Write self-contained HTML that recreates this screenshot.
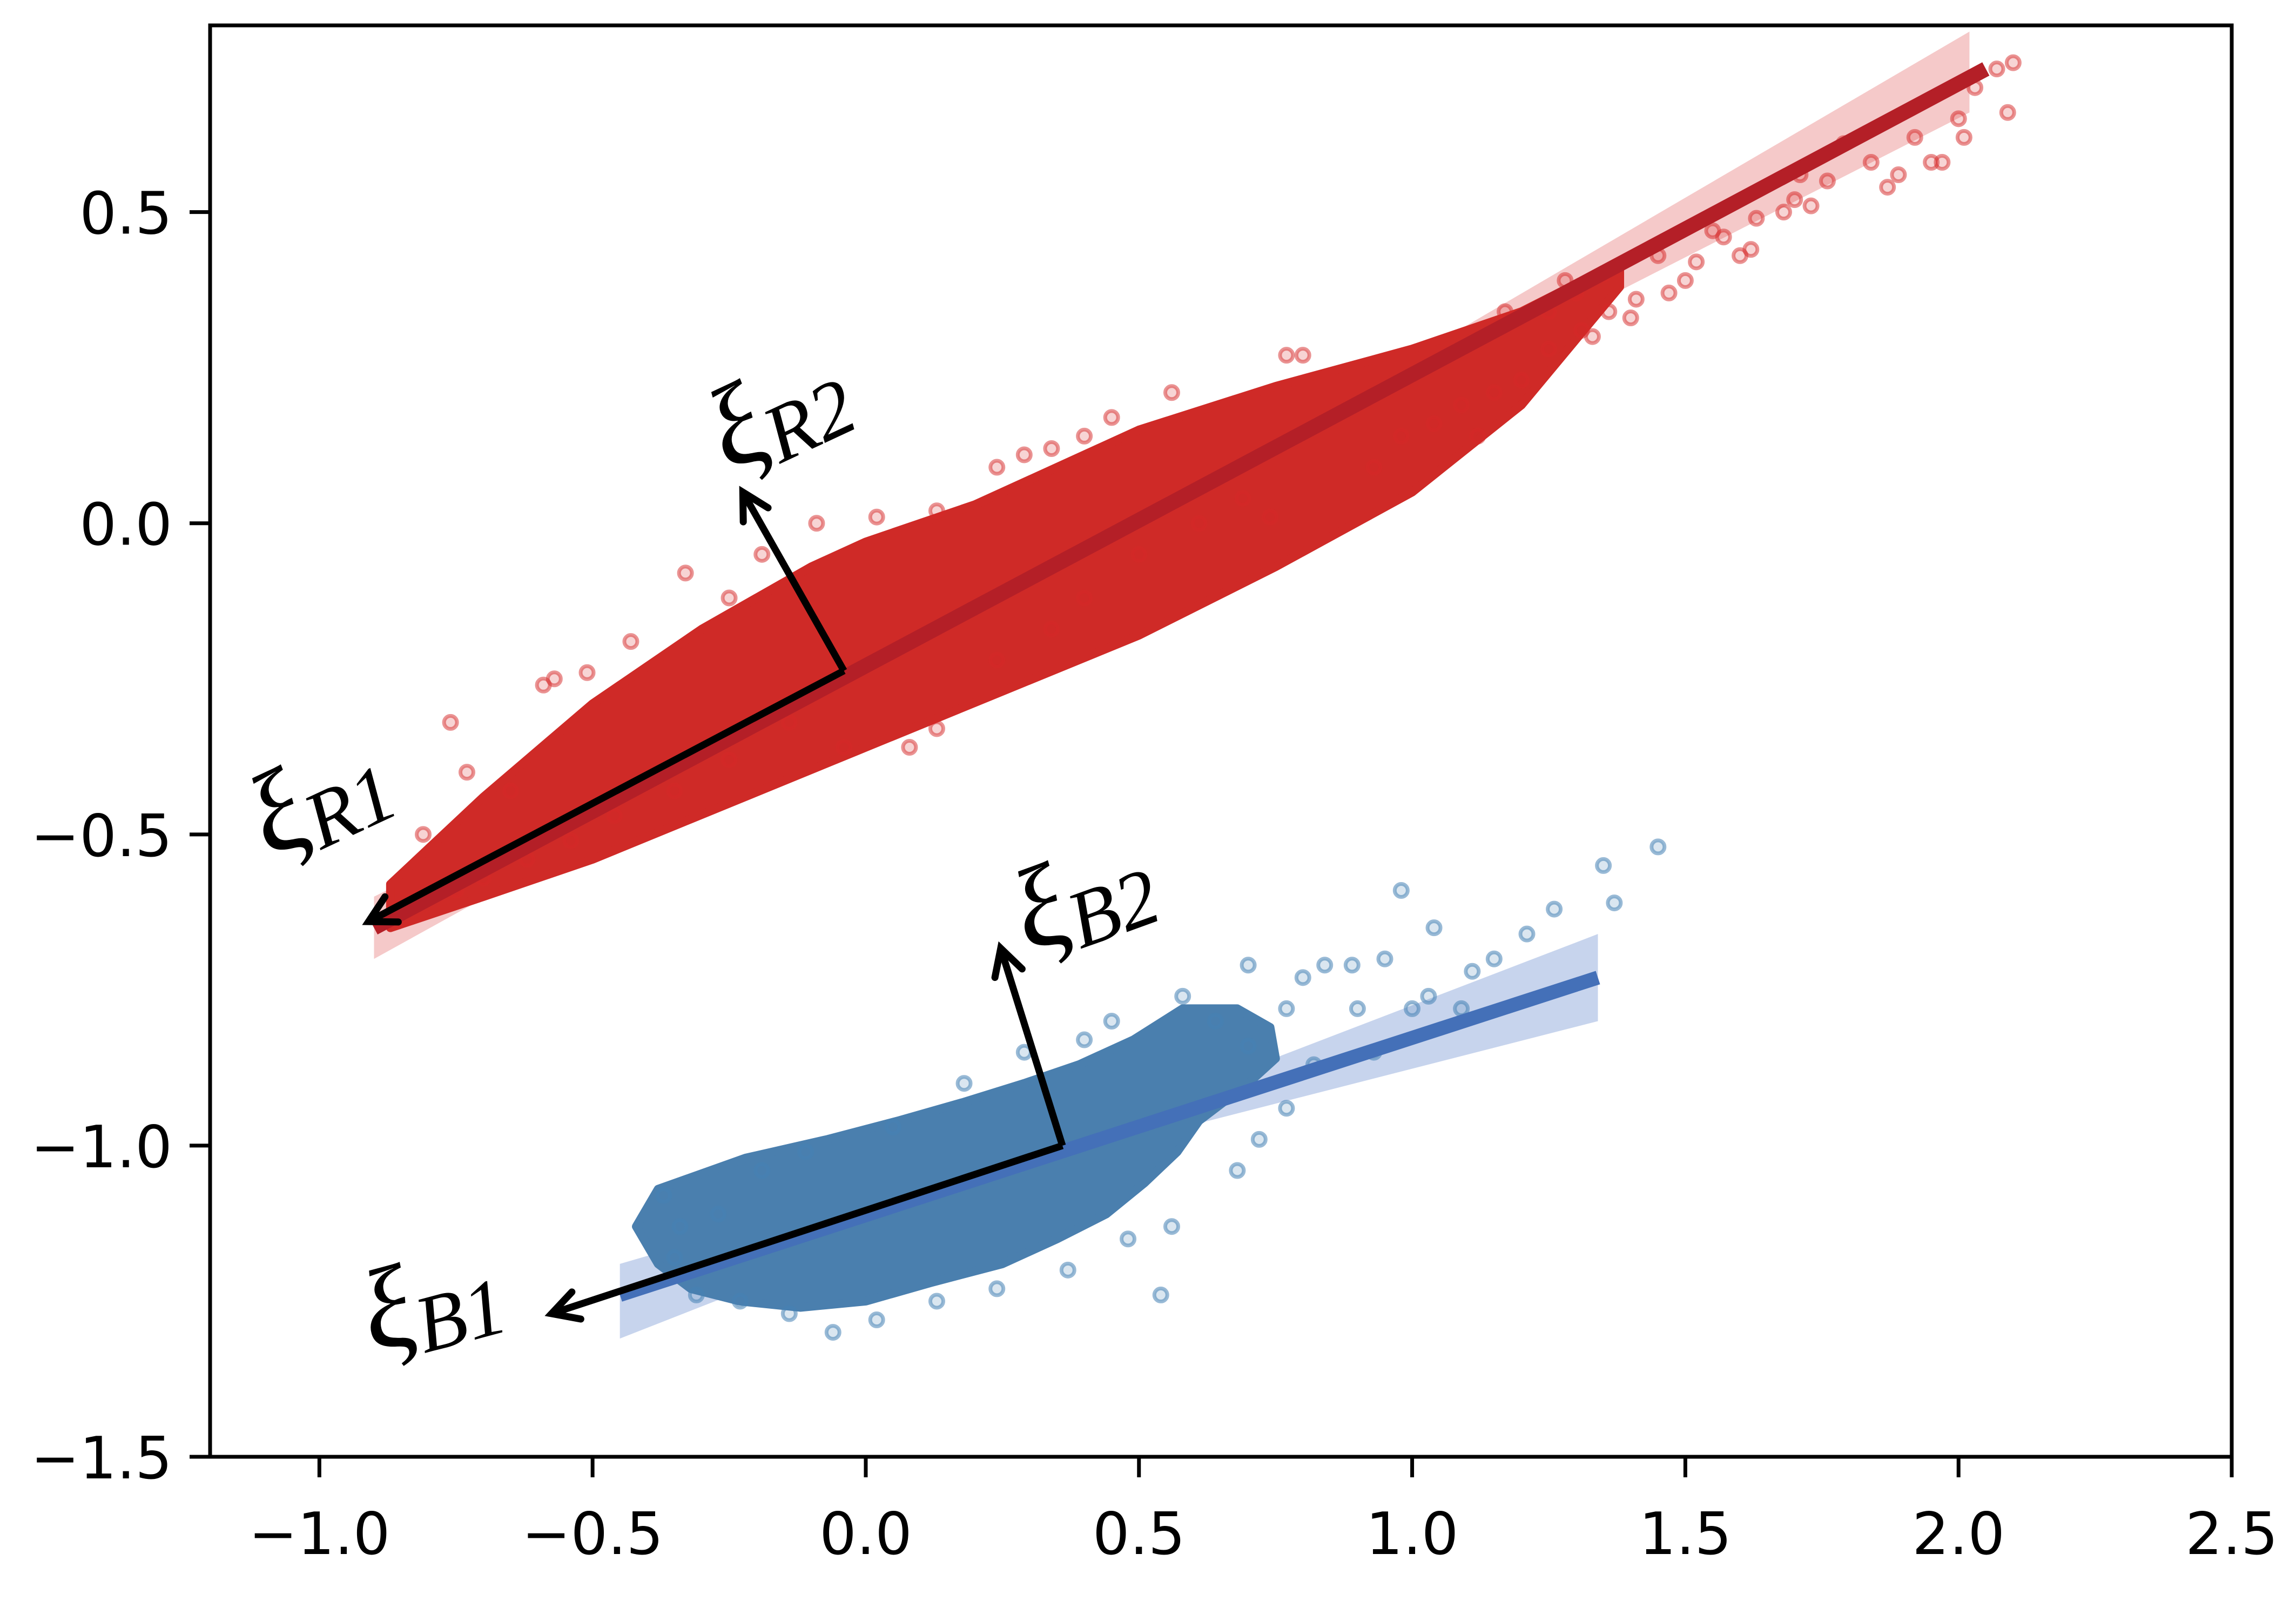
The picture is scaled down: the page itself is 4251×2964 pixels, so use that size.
<!DOCTYPE html>
<html><head><meta charset="utf-8">
<style>
html,body{margin:0;padding:0;background:#fff;}
svg{display:block;}
text{font-family:"DejaVu Sans","Liberation Sans",sans-serif;}
.lab{font-family:"Liberation Serif","DejaVu Serif",serif;font-style:italic;}
</style></head>
<body>
<svg id="chart" width="4251" height="2964" viewBox="0 0 4251 2964" xmlns="http://www.w3.org/2000/svg">
<g id="bands"></g>
<g id="clouds"></g>
<g id="points"></g>
<g id="lines"></g>
<g id="arrows"></g>
<g id="axes"></g>
<g id="labels">
<text class="lab" transform="translate(500,1590) rotate(-25)" font-size="215">ξ<tspan font-size="150" dy="25">R1</tspan></text>
<text class="lab" transform="translate(1350,875) rotate(-25)" font-size="215">ξ<tspan font-size="150" dy="25">R2</tspan></text>
<text class="lab" transform="translate(1905,1765) rotate(-20)" font-size="215">ξ<tspan font-size="150" dy="25">B2</tspan></text>
<text class="lab" transform="translate(690,2505) rotate(-15)" font-size="215">ξ<tspan font-size="150" dy="25">B1</tspan></text>
</g>
</svg>
<script>
const xTicks = [-1.0, -0.5, 0.0, 0.5, 1.0, 1.5, 2.0, 2.5];
const xTickLabels = ["−1.0","−0.5","0.0","0.5","1.0","1.5","2.0","2.5"];
const yTicks = [0.5, 0.0, -0.5, -1.0, -1.5];
const yTickLabels = ["0.5","0.0","−0.5","−1.0","−1.5"];

const redCloudUpperX = [-0.87,-0.70,-0.50,-0.30,-0.10,0.00,0.20,0.50,0.75,1.00,1.20,1.38];
const redCloudUpperY = [-0.58,-0.44,-0.29,-0.17,-0.07,-0.03,0.03,0.15,0.22,0.28,0.34,0.42];
const redCloudLowerX = [1.38,1.20,1.00,0.75,0.50,0.25,0.00,-0.25,-0.50,-0.70,-0.87];
const redCloudLowerY = [0.38,0.19,0.05,-0.07,-0.18,-0.27,-0.36,-0.45,-0.54,-0.60,-0.65];

const blueCloudUpperX = [-0.42,-0.38,-0.22,-0.07,0.06,0.18,0.29,0.39,0.49,0.58,0.68,0.74,0.75];
const blueCloudUpperY = [-1.13,-1.07,-1.02,-0.99,-0.96,-0.93,-0.90,-0.87,-0.83,-0.78,-0.78,-0.81,-0.86];
const blueCloudLowerX = [0.70,0.61,0.57,0.51,0.44,0.35,0.25,0.12,0.00,-0.12,-0.23,-0.32,-0.38];
const blueCloudLowerY = [-0.90,-0.96,-1.01,-1.06,-1.11,-1.15,-1.19,-1.22,-1.25,-1.26,-1.25,-1.23,-1.19];

const redX = [2.00,2.03,2.07,2.10,2.09,2.01,1.95,1.89,1.87,1.76,1.73,1.68,1.63,1.57,1.60,1.52,1.47,1.41,1.36,1.31,1.25,1.20,1.15,1.09,1.04,0.98,0.93,0.77,0.80,0.56,1.79,1.84,1.71,1.92,1.97,1.28,1.17,1.12,0.69,0.74,0.61,0.50,0.40,0.34,0.24,0.13,0.08,-0.04,-0.14,-0.25,-0.35,-0.46,-0.54,-0.62,-0.70,-0.75,-0.76,-0.59,-0.51,-0.43,-0.33,-0.25,-0.19,-0.09,0.02,0.13,0.24,0.29,0.40,0.45,0.34,-0.57,-0.73,-0.65,-0.81,1.30,1.35,1.45,1.55,1.62,1.70,1.40,1.50,1.25,1.33];
const redY = [0.65,0.70,0.73,0.74,0.66,0.62,0.58,0.56,0.54,0.55,0.51,0.50,0.49,0.46,0.43,0.42,0.37,0.36,0.34,0.31,0.28,0.23,0.21,0.19,0.16,0.14,0.09,0.27,0.27,0.21,0.61,0.58,0.56,0.62,0.58,0.39,0.34,0.14,0.04,0.01,0.00,-0.05,-0.12,-0.17,-0.22,-0.33,-0.36,-0.36,-0.32,-0.38,-0.43,-0.47,-0.51,-0.54,-0.57,-0.59,-0.32,-0.26,-0.24,-0.19,-0.08,-0.12,-0.05,0.00,0.01,0.02,0.09,0.11,0.14,0.17,0.12,-0.25,-0.40,-0.43,-0.50,0.37,0.40,0.43,0.47,0.44,0.52,0.33,0.39,0.34,0.30];

const blueX = [1.45,1.35,1.37,0.98,1.26,1.21,1.15,1.11,1.04,0.95,0.89,0.84,0.80,0.70,0.77,0.70,0.64,1.03,1.00,1.09,0.93,0.82,0.77,0.72,0.68,0.56,0.54,0.48,0.37,0.24,0.13,0.02,-0.06,-0.14,-0.23,-0.31,-0.35,-0.37,-0.34,-0.27,-0.19,-0.11,0.05,0.18,0.29,0.40,0.45,0.58,0.90];
const blueY = [-0.52,-0.55,-0.61,-0.59,-0.62,-0.66,-0.70,-0.72,-0.65,-0.70,-0.71,-0.71,-0.73,-0.71,-0.78,-0.84,-0.80,-0.76,-0.78,-0.78,-0.85,-0.87,-0.94,-0.99,-1.04,-1.13,-1.24,-1.15,-1.20,-1.23,-1.25,-1.28,-1.30,-1.27,-1.25,-1.24,-1.18,-1.08,-1.13,-1.11,-1.04,-1.01,-0.97,-0.90,-0.85,-0.83,-0.80,-0.76,-0.78];

const redLineX = [-0.90, 2.05];
const redLineY = [-0.65, 0.73];
const redBandX = [-0.90, 0.50, 2.02];
const redBandLo = [-0.70, -0.02, 0.66];
const redBandHi = [-0.60, 0.01, 0.79];

const blueLineX = [-0.45, 1.34];
const blueLineY = [-1.24, -0.73];
const blueBandX = [-0.45, 0.45, 1.34];
const blueBandLo = [-1.31, -1.00, -0.80];
const blueBandHi = [-1.19, -0.96, -0.66];

const redArrowOrigin = [-0.04, -0.237];
const redArrowTips = [[-0.91, -0.64], [-0.225, 0.05]];
const blueArrowOrigin = [0.36, -1.0];
const blueArrowTips = [[-0.575, -1.27], [0.247, -0.683]];

const X0 = 389, X1 = 4132, Y0 = 47, Y1 = 2697;
const xMin = -1.2, xMax = 2.5, yMin = -1.5, yMax = 0.8;
const sx = v => X0 + (v - xMin) / (xMax - xMin) * (X1 - X0);
const sy = v => Y1 - (v - yMin) / (yMax - yMin) * (Y1 - Y0);
const NS = "http://www.w3.org/2000/svg";
function mk(tag, parent, attrs) {
  const e = document.createElementNS(NS, tag);
  for (const k in attrs) e.setAttribute(k, attrs[k]);
  parent.appendChild(e);
  return e;
}
const gB = document.getElementById('bands'), gC = document.getElementById('clouds'),
      gP = document.getElementById('points'), gL = document.getElementById('lines'),
      gA = document.getElementById('arrows'), gX = document.getElementById('axes');

function band(bx, lo, hi, fill, name) {
  const pts = [];
  for (let i = 0; i < bx.length; i++) pts.push(sx(bx[i]) + ',' + sy(hi[i]));
  for (let i = bx.length - 1; i >= 0; i--) pts.push(sx(bx[i]) + ',' + sy(lo[i]));
  const p = mk('polygon', gB, {points: pts.join(' '), fill: fill});
  
  
}
band(redBandX, redBandLo, redBandHi, 'rgba(214,39,40,0.25)', 'red-confidence-band');
band(blueBandX, blueBandLo, blueBandHi, 'rgba(68,114,196,0.3)', 'blue-confidence-band');

function cloud(ux, uy, lx, ly, fill, name) {
  const pts = [];
  for (let i = 0; i < ux.length; i++) pts.push(sx(ux[i]) + ',' + sy(uy[i]));
  for (let i = 0; i < lx.length; i++) pts.push(sx(lx[i]) + ',' + sy(ly[i]));
  const p = mk('polygon', gC, {points: pts.join(' '), fill: fill, stroke: fill, 'stroke-width': 16, 'stroke-linejoin': 'round'});
  
  
}
cloud(redCloudUpperX, redCloudUpperY, redCloudLowerX, redCloudLowerY, '#cf2a27', 'red-dense-cloud');
cloud(blueCloudUpperX, blueCloudUpperY, blueCloudLowerX, blueCloudLowerY, '#4a7fae', 'blue-dense-cloud');

function pts(xs, ys, fill, stroke, name) {
  for (let i = 0; i < xs.length; i++) {
    const c = mk('circle', gP, {cx: sx(xs[i]), cy: sy(ys[i]), r: 12, fill: fill, stroke: stroke, 'stroke-width': 7});
    
    
  }
}
pts(redX, redY, 'rgba(214,39,40,0.2)', 'rgba(214,39,40,0.5)', 'red-point');
pts(blueX, blueY, 'rgba(70,130,180,0.2)', 'rgba(70,130,180,0.55)', 'blue-point');

function line(lx, ly, color, w, name) {
  const l = mk('line', gL, {x1: sx(lx[0]), y1: sy(ly[0]), x2: sx(lx[1]), y2: sy(ly[1]), stroke: color, 'stroke-width': w});
  
  
}
line(redLineX, redLineY, '#b41f27', 28, 'red-regression-line');
line(blueLineX, blueLineY, '#4470b8', 26, 'blue-regression-line');

function arrow(o, t, name) {
  const x1 = sx(o[0]), y1 = sy(o[1]), x2 = sx(t[0]), y2 = sy(t[1]);
  const g = mk('g', gA, {});
  
  
  mk('line', g, {x1: x1, y1: y1, x2: x2, y2: y2, stroke: '#000', 'stroke-width': 13});
  const a = Math.atan2(y2 - y1, x2 - x1), L = 55;
  const d = 'M' + (x2 - L * Math.cos(a - 0.5)) + ',' + (y2 - L * Math.sin(a - 0.5)) + ' L' + x2 + ',' + y2 +
            ' L' + (x2 - L * Math.cos(a + 0.5)) + ',' + (y2 - L * Math.sin(a + 0.5));
  mk('path', g, {d: d, fill: 'none', stroke: '#000', 'stroke-width': 13, 'stroke-linecap': 'round', 'stroke-linejoin': 'miter'});
}
arrow(redArrowOrigin, redArrowTips[0], 'arrow-xi-r1');
arrow(redArrowOrigin, redArrowTips[1], 'arrow-xi-r2');
arrow(blueArrowOrigin, blueArrowTips[0], 'arrow-xi-b1');
arrow(blueArrowOrigin, blueArrowTips[1], 'arrow-xi-b2');

const frame = mk('rect', gX, {x: X0, y: Y0, width: X1 - X0, height: Y1 - Y0, fill: 'none', stroke: '#000', 'stroke-width': 7});


for (let i = 0; i < xTicks.length; i++) {
  const x = sx(xTicks[i]);
  const t = mk('line', gX, {x1: x, y1: Y1, x2: x, y2: Y1 + 38, stroke: '#000', 'stroke-width': 7});
  
  
  const tx = mk('text', gX, {x: x, y: Y1 + 180, 'font-size': 108, 'text-anchor': 'middle', fill: '#000'});
  tx.textContent = xTickLabels[i];
  
  
}
for (let i = 0; i < yTicks.length; i++) {
  const y = sy(yTicks[i]);
  const t = mk('line', gX, {x1: X0 - 38, y1: y, x2: X0, y2: y, stroke: '#000', 'stroke-width': 7});
  
  
  const tx = mk('text', gX, {x: X0 - 70, y: y + 40, 'font-size': 108, 'text-anchor': 'end', fill: '#000'});
  tx.textContent = yTickLabels[i];
  
  
}
</script>
</body></html>
